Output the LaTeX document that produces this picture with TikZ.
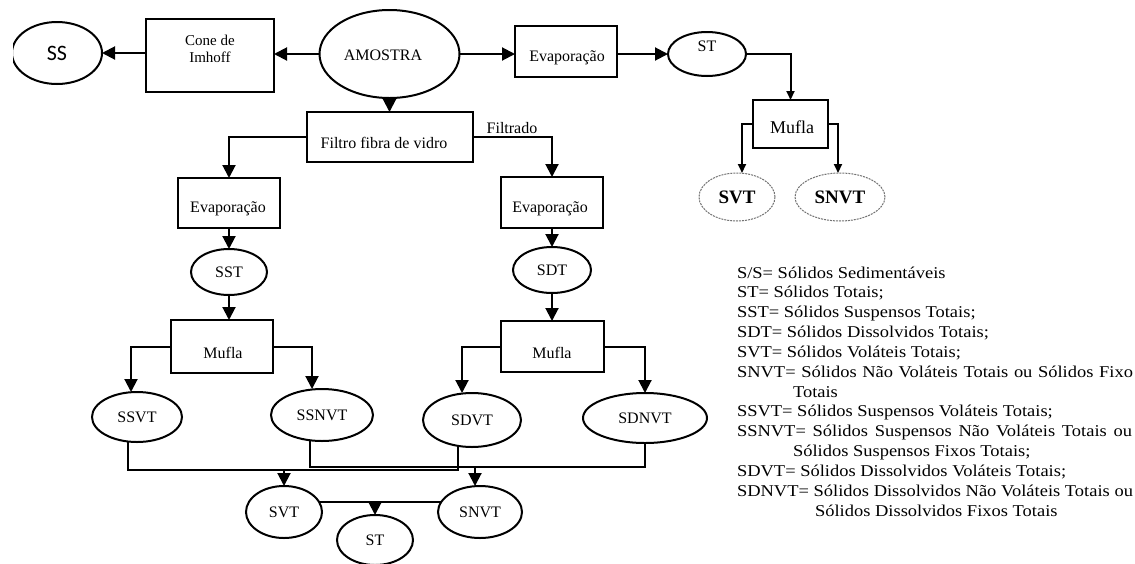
\documentclass[tikz,border=0pt]{standalone}
\usepackage{fontspec}
\setmainfont{Liberation Serif}
\newfontfamily\sansf{Carlito}
\newfontfamily\legfont[FakeStretch=1.12]{Liberation Serif}
\usetikzlibrary{shapes.geometric,arrows.meta}
\pgfdeclarelayer{bg}
\pgfsetlayers{bg,main}
\begin{document}
\begin{tikzpicture}[x=1pt,y=-1pt,
  every node/.style={inner sep=0pt, outer sep=0pt},
  procbox/.style={draw, line width=2pt, rectangle, fill=white},
  oval/.style={draw, line width=2pt, ellipse, fill=white, font=\fontsize{16}{18}\selectfont},
  doval/.style={draw=black!55, line width=1pt, dash pattern=on 2pt off 1pt, ellipse, fill=white, font=\bfseries\fontsize{19}{21}\selectfont},
  lbl/.style={font=\fontsize{16}{18}\selectfont, align=center},
  ln/.style={line width=2pt},
  arr/.style={line width=2pt, -{Triangle[length=13pt,width=13pt]}},
  arrs/.style={line width=2pt, -{Triangle[length=9pt,width=8pt]}},
  leg/.style={font=\legfont\fontsize{16.5}{19.85}\selectfont, anchor=base west},
]
\useasboundingbox (0,0) rectangle (1135,563);

% ---------- top row ----------
\begin{scope}
\clip (13,0) rectangle (1135,563);
\node[oval, minimum width=90pt, minimum height=62pt, font=\sansf\fontsize{22}{24}\selectfont] (eSS) at (57,53) {SS};
\end{scope}
\node[procbox, minimum width=128pt, minimum height=73pt] (bCone) at (210,55.5) {};
\node[lbl, font=\fontsize{15}{17}\selectfont] (tCone) at (210,49) {Cone de\\Imhoff};
\node[oval, minimum width=140pt, minimum height=88pt] (eAm) at (389.5,54) {};
\node[lbl] (tAm) at (383,55) {AMOSTRA};
\node[procbox, minimum width=102pt, minimum height=51pt] (bEvT) at (566,51.5) {};
\node[lbl] (tEvT) at (567,58) {Evaporação};
\node[oval, minimum width=78pt, minimum height=44pt] (eSTt) at (707,54) {};
\node[lbl] (tSTt) at (707,46) {ST};
\node[procbox, minimum width=75pt, minimum height=48pt] (bMufT) at (790.5,124) {};
\node[lbl, font=\fontsize{18}{20}\selectfont] (tMufT) at (792,127) {Mufla};
\node[doval, minimum width=76pt, minimum height=48pt] (eSVTt) at (737,197) {SVT};
\node[doval, minimum width=90pt, minimum height=48pt] (eSNVTt) at (840,197) {SNVT};

% ---------- filter ----------
\node[procbox, minimum width=166pt, minimum height=50pt] (bFil) at (390,137) {};
\node[lbl] (tFil) at (384,143) {Filtro fibra de vidro};
\node[lbl, anchor=south] (tFiltrado) at (512,134) {Filtrado};

% ---------- left column ----------
\node[procbox, minimum width=102pt, minimum height=50pt] (bEvL) at (229,203) {};
\node[lbl] (tEvL) at (228,209) {Evaporação};
\node[oval, minimum width=76pt, minimum height=46pt] (eSST) at (229,272) {SST};
\node[procbox, minimum width=102pt, minimum height=53pt] (bMufL) at (222,346.5) {};
\node[lbl] (tMufL) at (223,353) {Mufla};
\node[oval, minimum width=90pt, minimum height=50pt] (eSSVT) at (137,417) {SSVT};
\node[oval, minimum width=102pt, minimum height=52pt] (eSSNVT) at (322,415) {SSNVT};

% ---------- right column ----------
\node[procbox, minimum width=102pt, minimum height=51pt] (bEvR) at (552,202.5) {};
\node[lbl] (tEvR) at (550,209) {Evaporação};
\node[oval, minimum width=78pt, minimum height=46pt] (eSDT) at (552,270) {SDT};
\node[procbox, minimum width=103pt, minimum height=51pt] (bMufR) at (552,346.5) {};
\node[lbl] (tMufR) at (552,353) {Mufla};
\node[oval, minimum width=98pt, minimum height=54pt] (eSDVT) at (472,420) {SDVT};
\node[oval, minimum width=124pt, minimum height=50pt] (eSDNVT) at (645,418) {SDNVT};

% ---------- bottom ----------
\node[oval, minimum width=76pt, minimum height=52pt] (eSVT) at (284,512) {SVT};
\node[oval, minimum width=84pt, minimum height=52pt] (eSNVT) at (480,512) {SNVT};
\node[oval, minimum width=76pt, minimum height=50pt] (eST) at (375,540) {ST};

\coordinate (jSVT) at (284,470);
\coordinate (jSNVT) at (475,467);
\coordinate (jST) at (375,502);

% ---------- connectors ----------
\begin{pgfonlayer}{bg}
\draw[arr] (bCone.west |- eSS.east) -- (eSS.east);
\draw[arr] (eAm.west) -- (eAm.west -| bCone.east);
\draw[arr] (eAm.east) -- (eAm.east -| bEvT.west);
\draw[arr] (bEvT.east |- eSTt.west) -- (eSTt.west);
\draw[arrs] (eSTt.center) -| (bMufT.north);
\draw[arrs] (bMufT.west) -| ([xshift=5pt]eSVTt.north);
\draw[arrs] (bMufT.east) -| ([xshift=-2pt]eSNVTt.north);

\draw[arr] (eAm.south) -- (eAm.south |- bFil.north);
\draw[arr] (bFil.west) -| (bEvL.north);
\draw[arr] (bFil.east) -| (bEvR.north);

\draw[arr] (bEvL.south) -- (eSST.north);
\draw[arr] (eSST.south) -- (eSST.south |- bMufL.north);
\draw[arr] (bMufL.west) -| ([xshift=-6pt]eSSVT.north);
\draw[arr] (bMufL.east) -| ([xshift=-10pt]eSSNVT.north);

\draw[arr] (bEvR.south) -- (eSDT.north);
\draw[arr] (eSDT.south) -- (bMufR.north);
\draw[arr] (bMufR.west) -| ([xshift=-10pt]eSDVT.north);
\draw[arr] (bMufR.east) -| (eSDNVT.north);

\draw[ln] ([xshift=-9pt]eSSVT.center) |- (jSVT) -| ([xshift=-14pt]eSDVT.center);
\draw[ln] ([xshift=-12pt]eSSNVT.center) |- (jSNVT) -| (eSDNVT.center);
\draw[arr] (jSVT) -- (eSVT.north);
\draw[arr] (jSNVT) -- (jSNVT |- eSNVT.north);
\draw[ln] ([yshift=10pt]eSVT.center) -- ([yshift=10pt]eSNVT.center);
\draw[arr] (jST) -- (eST.north);
\end{pgfonlayer}

% ---------- legend ----------
\node[leg] (l0) at (737,278) {S/S= Sólidos Sedimentáveis};
\node[leg] (l1) at (737,297.85) {ST= Sólidos Totais;};
\node[leg] (l2) at (737,317.7) {SST= Sólidos Suspensos Totais;};
\node[leg] (l3) at (737,337.55) {SDT= Sólidos Dissolvidos Totais;};
\node[leg] (l4) at (737,357.4) {SVT= Sólidos Voláteis Totais;};
\node[leg] (l5) at (737,377.25) {\makebox[396pt][s]{SNVT= Sólidos Não Voláteis Totais ou Sólidos Fixo}};
\node[leg] (l6) at (793,397.1) {Totais};
\node[leg] (l7) at (737,416.95) {SSVT= Sólidos Suspensos Voláteis Totais;};
\node[leg] (l8) at (737,436.8) {\makebox[395pt][s]{SSNVT= Sólidos Suspensos Não Voláteis Totais ou}};
\node[leg] (l9) at (793,456.65) {Sólidos Suspensos Fixos Totais;};
\node[leg] (l10) at (737,476.5) {SDVT= Sólidos Dissolvidos Voláteis Totais;};
\node[leg] (l11) at (737,496.35) {\makebox[396pt][s]{SDNVT= Sólidos Dissolvidos Não Voláteis Totais ou}};
\node[leg] (l12) at (815,516.2) {Sólidos Dissolvidos Fixos Totais};
\end{tikzpicture}
\end{document}
